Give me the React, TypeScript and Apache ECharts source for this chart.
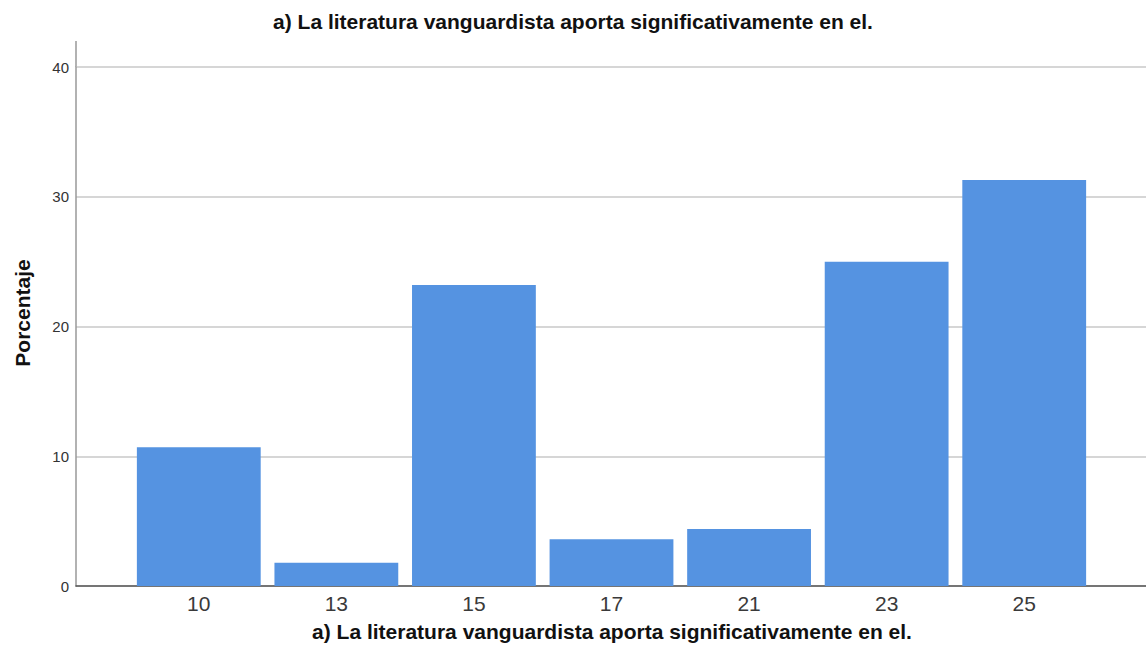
import React, { useEffect, useRef } from "react";
import * as echarts from "echarts";

const categories = ["10", "13", "15", "17", "21", "23", "25"];
const percentages = [10.7, 1.8, 23.2, 3.6, 4.4, 25.0, 31.3];
const yTicks = [0, 10, 20, 30, 40];
const titleText = "a) La literatura vanguardista aporta significativamente en el.";
const xName = "a) La literatura vanguardista aporta significativamente en el.";
const yName = "Porcentaje";

export default function App() {
  const ref = useRef<HTMLDivElement>(null);
  useEffect(() => {
    if (!ref.current) return;
    const chart = echarts.init(ref.current, null, { renderer: "svg" });
    const font = "Arial, 'Liberation Sans', sans-serif";
    chart.setOption({
      animation: false,
      backgroundColor: "#ffffff",
      graphic: [
        {
          type: "line",
          shape: { x1: 76, y1: 41, x2: 76, y2: 67 },
          style: { stroke: "#999", lineWidth: 1.5 },
        },
        {
          type: "text",
          x: 573,
          y: 21,
          style: {
            text: titleText,
            font: `bold 21px ${font}`,
            fill: "#111",
            align: "center",
            verticalAlign: "middle",
          },
        },
        {
          type: "text",
          x: 612,
          y: 631,
          style: {
            text: xName,
            font: `bold 21px ${font}`,
            fill: "#111",
            align: "center",
            verticalAlign: "middle",
          },
        },
        {
          type: "text",
          x: 22,
          y: 313,
          rotation: Math.PI / 2,
          style: {
            text: yName,
            font: `bold 21px ${font}`,
            fill: "#111",
            align: "center",
            verticalAlign: "middle",
          },
        },
      ],
      grid: [
        { left: 76, right: 0, top: 67, bottom: 79, containLabel: false },
        { left: 130, right: 53, top: 67, bottom: 79, containLabel: false },
      ],
      xAxis: [
        {
          gridIndex: 0,
          type: "value",
          min: 0,
          max: 1,
          axisLine: { show: true, onZero: false, lineStyle: { color: "#555", width: 1.5 } },
          axisTick: { show: false },
          axisLabel: { show: false },
          splitLine: { show: false },
        },
        {
          gridIndex: 1,
          type: "category",
          data: categories,
          axisLine: { show: false },
          axisTick: { show: false },
          axisLabel: { fontFamily: font, fontSize: 21, color: "#3a3a3a", margin: 7 },
        },
      ],
      yAxis: [
        {
          gridIndex: 0,
          type: "value",
          min: yTicks[0],
          max: yTicks[yTicks.length - 1],
          interval: 10,
          axisLine: { show: true, lineStyle: { color: "#999", width: 1.5 } },
          axisTick: { show: false },
          axisLabel: { fontFamily: font, fontSize: 15, color: "#333", margin: 7 },
          splitLine: { show: true, lineStyle: { color: "#c8c8c8", width: 1.5 } },
        },
        {
          gridIndex: 1,
          type: "value",
          min: yTicks[0],
          max: yTicks[yTicks.length - 1],
          interval: 10,
          show: false,
        },
      ],
      series: [
        {
          type: "bar",
          xAxisIndex: 1,
          yAxisIndex: 1,
          data: percentages,
          barCategoryGap: "10%",
          itemStyle: { color: "#5593e1" },
        },
      ],
    });
    return () => chart.dispose();
  }, []);
  return (
    <div
      ref={ref}
      style={{ position: "fixed", left: 0, top: 0, width: 1146, height: 665 }}
    />
  );
}
